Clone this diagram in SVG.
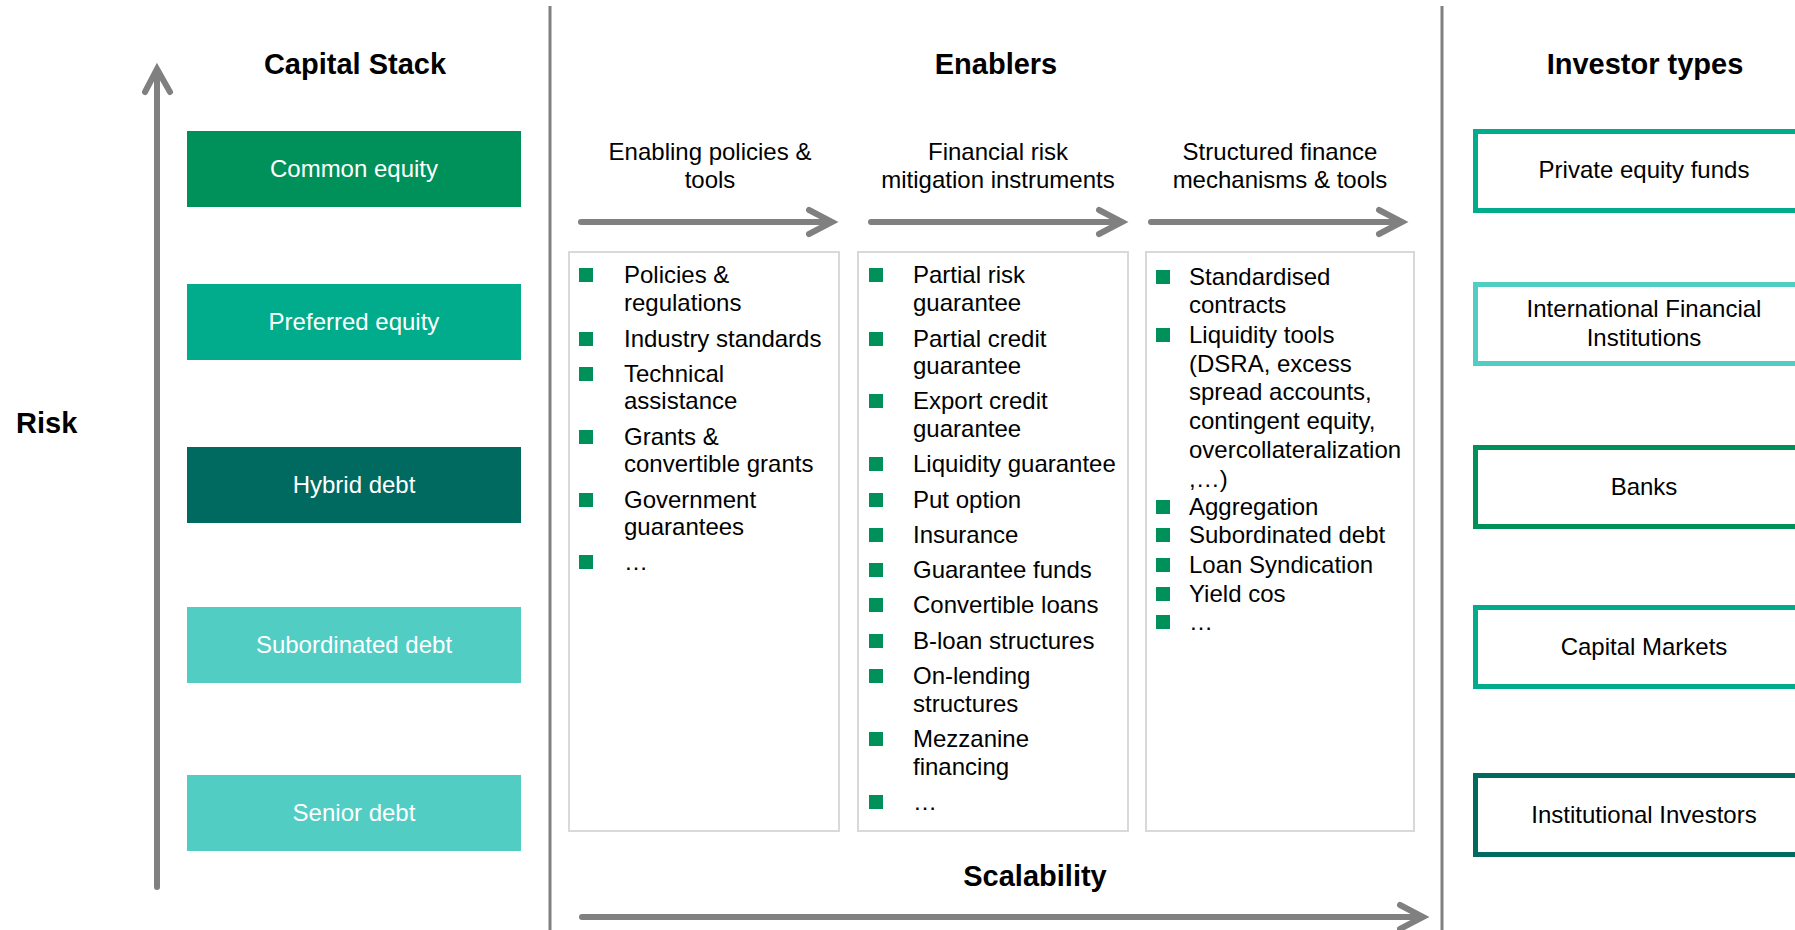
<svg xmlns="http://www.w3.org/2000/svg" width="1795" height="930" viewBox="0 0 1795 930">
<style>
text{font-family:"Liberation Sans",Arial,sans-serif;fill:#000}
.title{font-size:29px;font-weight:bold}
.hdr{font-size:24px;text-anchor:middle}
.stk{font-size:24px;fill:#fff;text-anchor:middle}
.inv{font-size:24px;text-anchor:middle}
.it{font-size:24px}
.bul{fill:#00915A}
.lst{fill:#fff;stroke:#D9D9D9;stroke-width:2}
.div{stroke:#808080;stroke-width:3;fill:none}
.arr{stroke:#808080;stroke-width:6;fill:none;stroke-linecap:round;stroke-linejoin:miter}
.ibox{fill:#fff;stroke-width:5}
</style>

<g id="dividers">
<line class="div" x1="550" y1="6" x2="550" y2="930"/>
<line class="div" x1="1442" y1="6" x2="1442" y2="930"/>
</g>

<g id="titles">
<text class="title" x="355" y="74" text-anchor="middle">Capital Stack</text>
<text class="title" x="996" y="74" text-anchor="middle">Enablers</text>
<text class="title" x="1645" y="74" text-anchor="middle">Investor types</text>
<text class="title" x="16" y="433">Risk</text>
<text class="title" x="1035" y="886" text-anchor="middle">Scalability</text>
</g>

<g id="connectors">
<path class="arr" d="M157 887 V71 M145 92 L157 69 L170 92"/>
<path class="arr" d="M581 222 H830 M809 210 L832 222 L809 234"/>
<path class="arr" d="M871 222 H1120 M1099 210 L1122 222 L1099 234"/>
<path class="arr" d="M1151 222 H1400 M1379 210 L1402 222 L1379 234"/>
<path class="arr" d="M582 917 H1421 M1400 905 L1423 917 L1400 929"/>
</g>

<g id="stack-common"><rect x="187" y="131" width="334" height="76" fill="#00915A"/><text class="stk" x="354" y="177">Common equity</text></g>
<g id="stack-preferred"><rect x="187" y="284" width="334" height="76" fill="#00AC8C"/><text class="stk" x="354" y="330">Preferred equity</text></g>
<g id="stack-hybrid"><rect x="187" y="447" width="334" height="76" fill="#006A60"/><text class="stk" x="354" y="493">Hybrid debt</text></g>
<g id="stack-subordinated"><rect x="187" y="607" width="334" height="76" fill="#52CDC4"/><text class="stk" x="354" y="653">Subordinated debt</text></g>
<g id="stack-senior"><rect x="187" y="775" width="334" height="76" fill="#52CDC4"/><text class="stk" x="354" y="821">Senior debt</text></g>

<g id="enabler-policies">
<text class="hdr" x="710" y="160">Enabling policies &amp;</text>
<text class="hdr" x="710" y="188">tools</text>
<rect class="lst" x="569" y="252" width="270" height="579"/>
<rect class="bul" x="579" y="268" width="14" height="14"/>
<text class="it" x="624" y="283">Policies &amp;</text>
<text class="it" x="624" y="311">regulations</text>
<rect class="bul" x="579" y="332" width="14" height="14"/>
<text class="it" x="624" y="347">Industry standards</text>
<rect class="bul" x="579" y="367" width="14" height="14"/>
<text class="it" x="624" y="382">Technical</text>
<text class="it" x="624" y="409">assistance</text>
<rect class="bul" x="579" y="430" width="14" height="14"/>
<text class="it" x="624" y="445">Grants &amp;</text>
<text class="it" x="624" y="472">convertible grants</text>
<rect class="bul" x="579" y="493" width="14" height="14"/>
<text class="it" x="624" y="508">Government</text>
<text class="it" x="624" y="535">guarantees</text>
<rect class="bul" x="579" y="555" width="14" height="14"/>
<text class="it" x="624" y="570">…</text>
</g>

<g id="enabler-risk">
<text class="hdr" x="998" y="160">Financial risk</text>
<text class="hdr" x="998" y="188">mitigation instruments</text>
<rect class="lst" x="858" y="252" width="270" height="579"/>
<rect class="bul" x="869" y="268" width="14" height="14"/>
<text class="it" x="913" y="283">Partial risk</text>
<text class="it" x="913" y="311">guarantee</text>
<rect class="bul" x="869" y="332" width="14" height="14"/>
<text class="it" x="913" y="347">Partial credit</text>
<text class="it" x="913" y="374">guarantee</text>
<rect class="bul" x="869" y="394" width="14" height="14"/>
<text class="it" x="913" y="409">Export credit</text>
<text class="it" x="913" y="437">guarantee</text>
<rect class="bul" x="869" y="457" width="14" height="14"/>
<text class="it" x="913" y="472">Liquidity guarantee</text>
<rect class="bul" x="869" y="493" width="14" height="14"/>
<text class="it" x="913" y="508">Put option</text>
<rect class="bul" x="869" y="528" width="14" height="14"/>
<text class="it" x="913" y="543">Insurance</text>
<rect class="bul" x="869" y="563" width="14" height="14"/>
<text class="it" x="913" y="578">Guarantee funds</text>
<rect class="bul" x="869" y="598" width="14" height="14"/>
<text class="it" x="913" y="613">Convertible loans</text>
<rect class="bul" x="869" y="634" width="14" height="14"/>
<text class="it" x="913" y="649">B-loan structures</text>
<rect class="bul" x="869" y="669" width="14" height="14"/>
<text class="it" x="913" y="684">On-lending</text>
<text class="it" x="913" y="712">structures</text>
<rect class="bul" x="869" y="732" width="14" height="14"/>
<text class="it" x="913" y="747">Mezzanine</text>
<text class="it" x="913" y="775">financing</text>
<rect class="bul" x="869" y="795" width="14" height="14"/>
<text class="it" x="913" y="810">…</text>
</g>

<g id="enabler-structured">
<text class="hdr" x="1280" y="160">Structured finance</text>
<text class="hdr" x="1280" y="188">mechanisms &amp; tools</text>
<rect class="lst" x="1146" y="252" width="268" height="579"/>
<rect class="bul" x="1156" y="270" width="14" height="14"/>
<text class="it" x="1189" y="285">Standardised</text>
<text class="it" x="1189" y="313">contracts</text>
<rect class="bul" x="1156" y="328" width="14" height="14"/>
<text class="it" x="1189" y="343">Liquidity tools</text>
<text class="it" x="1189" y="372">(DSRA, excess</text>
<text class="it" x="1189" y="400">spread accounts,</text>
<text class="it" x="1189" y="429">contingent equity,</text>
<text class="it" x="1189" y="458">overcollateralization</text>
<text class="it" x="1189" y="487">,…)</text>
<rect class="bul" x="1156" y="500" width="14" height="14"/>
<text class="it" x="1189" y="515">Aggregation</text>
<rect class="bul" x="1156" y="528" width="14" height="14"/>
<text class="it" x="1189" y="543">Subordinated debt</text>
<rect class="bul" x="1156" y="558" width="14" height="14"/>
<text class="it" x="1189" y="573">Loan Syndication</text>
<rect class="bul" x="1156" y="587" width="14" height="14"/>
<text class="it" x="1189" y="602">Yield cos</text>
<rect class="bul" x="1156" y="615" width="14" height="14"/>
<text class="it" x="1189" y="630">…</text>
</g>

<g id="inv-pe"><rect class="ibox" x="1475.5" y="131.5" width="338" height="79" stroke="#00AC8C"/><text class="inv" x="1644" y="178">Private equity funds</text></g>
<g id="inv-ifi"><rect class="ibox" x="1475.5" y="284.5" width="338" height="79" stroke="#52CDC4"/><text class="inv" x="1644" y="317">International Financial</text><text class="inv" x="1644" y="346">Institutions</text></g>
<g id="inv-banks"><rect class="ibox" x="1475.5" y="447.5" width="338" height="79" stroke="#00915A"/><text class="inv" x="1644" y="495">Banks</text></g>
<g id="inv-cm"><rect class="ibox" x="1475.5" y="607.5" width="338" height="79" stroke="#00AC8C"/><text class="inv" x="1644" y="655">Capital Markets</text></g>
<g id="inv-ii"><rect class="ibox" x="1475.5" y="775.5" width="338" height="79" stroke="#006A60"/><text class="inv" x="1644" y="823">Institutional Investors</text></g>
</svg>
